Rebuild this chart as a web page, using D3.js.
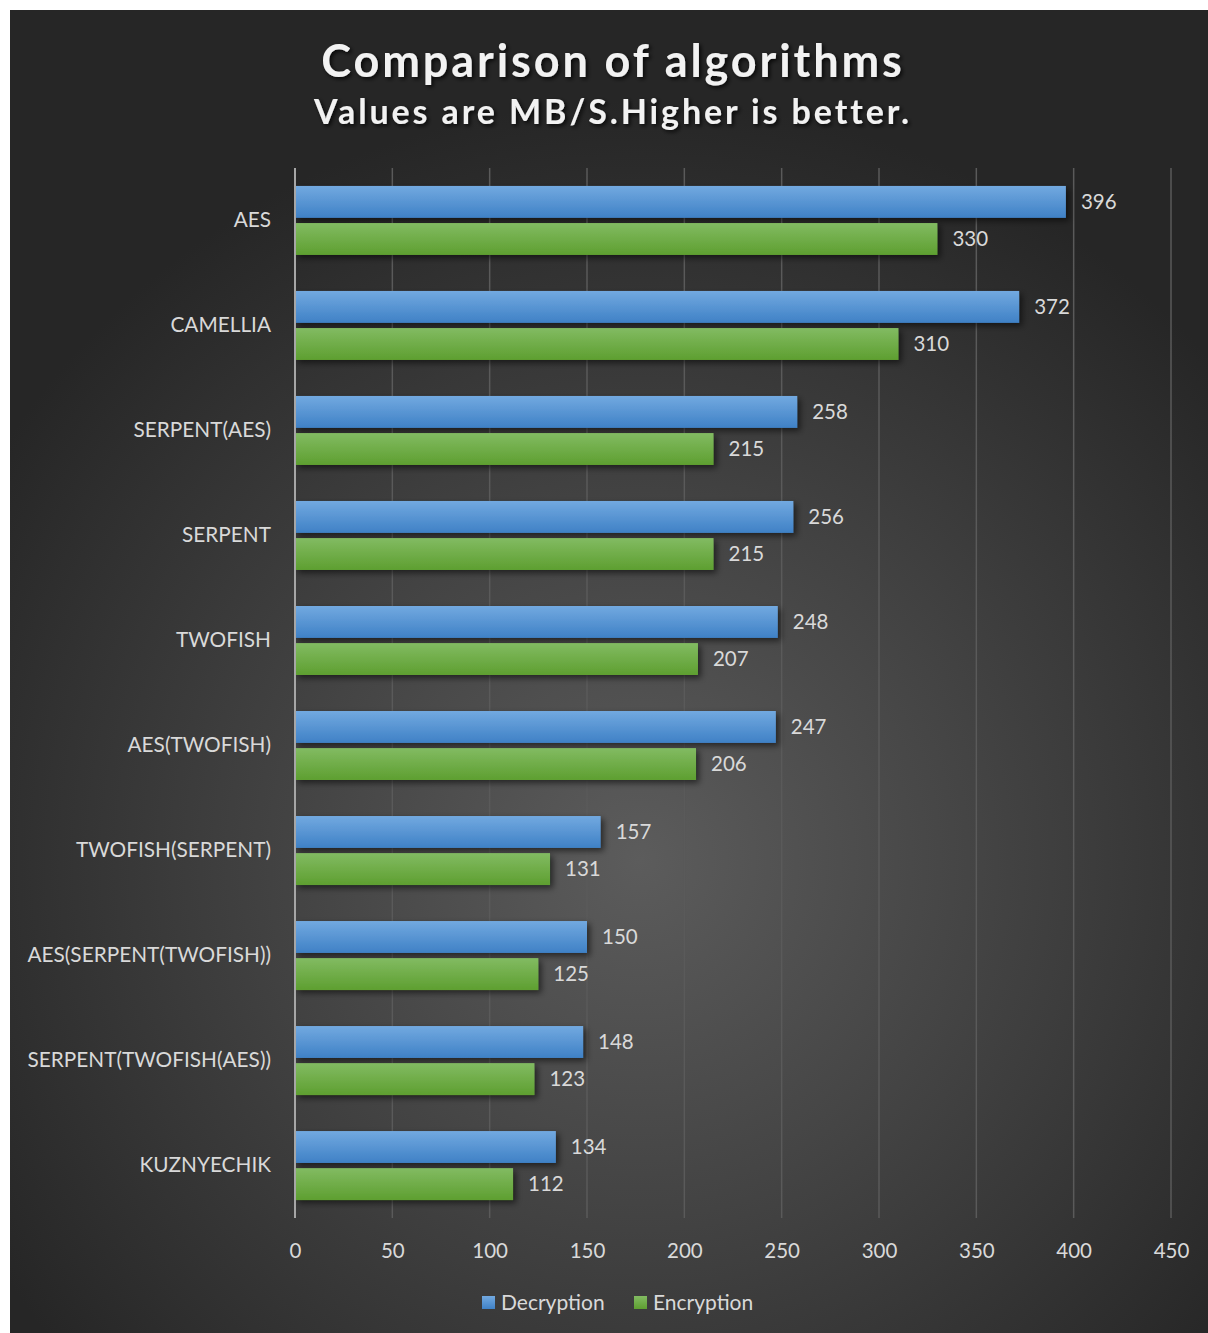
<!DOCTYPE html>
<html>
<head>
<meta charset="utf-8">
<script src="https://cdn.jsdelivr.net/npm/d3@7"></script>
<style>
  html, body { margin: 0; padding: 0; background: #ffffff; }
  svg { display: block; }
</style>
</head>
<body>
<svg id="chart" width="1208" height="1333"></svg>
<script>
// Throughput of each cipher, in MB/s
const algorithms = ["AES", "CAMELLIA", "SERPENT(AES)", "SERPENT", "TWOFISH",
  "AES(TWOFISH)", "TWOFISH(SERPENT)", "AES(SERPENT(TWOFISH))",
  "SERPENT(TWOFISH(AES))", "KUZNYECHIK"];
const decryption = [396, 372, 258, 256, 248, 247, 157, 150, 148, 134];
const encryption = [330, 310, 215, 215, 207, 206, 131, 125, 123, 112];
const seriesNames = ["Decryption", "Encryption"];
const xTicks = [0, 50, 100, 150, 200, 250, 300, 350, 400, 450];

const titleText = "Comparison of algorithms";
const subtitleText = "Values are MB/S.Higher is better.";

const frame = { x: 10, y: 10, w: 1198, h: 1323 };
const plot = { left: 295, right: 1171, top: 168, bottom: 1218 };
const font = "Lato, 'Open Sans', sans-serif";
const textColor = "#d9d9d9";

const svg = d3.select("#chart");
const defs = svg.append("defs");

// Dark backdrop, brighter toward the middle
const bg = defs.append("radialGradient").attr("id", "bg")
  .attr("gradientUnits", "userSpaceOnUse")
  .attr("cx", 640).attr("cy", 860).attr("r", 760);
bg.append("stop").attr("offset", "0").attr("stop-color", "#5c5c5c");
bg.append("stop").attr("offset", "0.45").attr("stop-color", "#444444");
bg.append("stop").attr("offset", "1").attr("stop-color", "#262626");

// Bar fills: lighter at the top edge
const fills = [
  { id: "gBlue", top: "#72a9e0", bottom: "#3f81c6" },
  { id: "gGreen", top: "#82bb62", bottom: "#5e9f30" }
];
fills.forEach(f => {
  const g = defs.append("linearGradient").attr("id", f.id)
    .attr("x1", 0).attr("y1", 0).attr("x2", 0).attr("y2", 1);
  g.append("stop").attr("offset", "0").attr("stop-color", f.top);
  g.append("stop").attr("offset", "1").attr("stop-color", f.bottom);
});

const shadow = defs.append("filter").attr("id", "barShadow")
  .attr("x", "-5%").attr("y", "-30%").attr("width", "115%").attr("height", "180%");
shadow.append("feDropShadow").attr("dx", 3).attr("dy", 3)
  .attr("stdDeviation", 3).attr("flood-color", "#000").attr("flood-opacity", 0.55);

const tshadow = defs.append("filter").attr("id", "textShadow")
  .attr("x", "-5%").attr("y", "-30%").attr("width", "110%").attr("height", "180%");
tshadow.append("feDropShadow").attr("dx", 2).attr("dy", 2)
  .attr("stdDeviation", 2).attr("flood-color", "#000").attr("flood-opacity", 0.8);

svg.append("rect")
  .attr("x", frame.x).attr("y", frame.y)
  .attr("width", frame.w).attr("height", frame.h)
  .attr("fill", "url(#bg)");

// Scales
const x = d3.scaleLinear().domain([0, 450]).range([plot.left, plot.right]);
const y = d3.scaleBand().domain(algorithms).range([plot.top, plot.bottom])
  .paddingInner(0.343).paddingOuter(0.171);
const inner = d3.scaleBand().domain(seriesNames).range([0, y.bandwidth()]).paddingInner(0.14);

// Vertical gridlines
svg.append("g").selectAll("line")
  .data(xTicks.slice(1))
  .join("line")
  .attr("x1", d => x(d)).attr("x2", d => x(d))
  .attr("y1", plot.top).attr("y2", plot.bottom)
  .attr("stroke", "#5a5a5a").attr("stroke-width", 1.5);

// Bars
const rows = algorithms.map((a, i) => ({ name: a, values: [decryption[i], encryption[i]] }));
const groups = svg.append("g").selectAll("g")
  .data(rows).join("g")
  .attr("transform", d => `translate(0,${y(d.name)})`);

groups.selectAll("rect")
  .data(d => d.values.map((v, k) => ({ series: seriesNames[k], value: v, k })))
  .join("rect")
  .attr("x", x(0))
  .attr("y", d => inner(d.series))
  .attr("width", d => x(d.value) - x(0))
  .attr("height", inner.bandwidth())
  .attr("fill", d => `url(#${fills[d.k].id})`)
  .attr("filter", "url(#barShadow)");

groups.selectAll("text")
  .data(d => d.values.map((v, k) => ({ series: seriesNames[k], value: v })))
  .join("text")
  .attr("x", d => x(d.value) + 15)
  .attr("y", d => inner(d.series) + inner.bandwidth() / 2)
  .attr("dy", "0.35em")
  .attr("font-family", font).attr("font-size", 20.5)
  .attr("fill", textColor)
  .text(d => d.value);

// Category axis
const yAxis = svg.append("g")
  .attr("transform", `translate(${plot.left},0)`)
  .call(d3.axisLeft(y).tickSize(0).tickPadding(24));
yAxis.select(".domain").remove();
yAxis.selectAll("text")
  .attr("font-family", font).attr("font-size", 20.8)
  .attr("fill", textColor);

svg.append("line")
  .attr("x1", plot.left).attr("x2", plot.left)
  .attr("y1", plot.top).attr("y2", plot.bottom)
  .attr("stroke", "#a6a6a6").attr("stroke-width", 2);

// Value axis
const xAxis = svg.append("g")
  .attr("transform", `translate(0,${plot.bottom})`)
  .call(d3.axisBottom(x).tickValues(xTicks).tickSize(0).tickPadding(25));
xAxis.select(".domain").remove();
xAxis.selectAll("text")
  .attr("font-family", font).attr("font-size", 20.5)
  .attr("fill", textColor);

// Titles
svg.append("text")
  .attr("x", 613).attr("y", 77)
  .attr("text-anchor", "middle")
  .attr("font-family", font).attr("font-weight", "bold")
  .attr("font-size", 45).attr("letter-spacing", 2.9)
  .attr("fill", "#f2f2f2").attr("filter", "url(#textShadow)")
  .text(titleText);

svg.append("text")
  .attr("x", 613).attr("y", 124)
  .attr("text-anchor", "middle")
  .attr("font-family", font).attr("font-weight", "bold")
  .attr("font-size", 34).attr("letter-spacing", 2.9)
  .attr("fill", "#f2f2f2").attr("filter", "url(#textShadow)")
  .text(subtitleText);

// Legend
const legendX = [482, 634];
const legend = svg.append("g").selectAll("g")
  .data(seriesNames).join("g")
  .attr("transform", (d, i) => `translate(${legendX[i]},1296)`);
legend.append("rect")
  .attr("width", 13).attr("height", 13)
  .attr("fill", (d, i) => `url(#${fills[i].id})`);
legend.append("text")
  .attr("x", 19).attr("y", 7).attr("dy", "0.35em")
  .attr("font-family", font).attr("font-size", 21)
  .attr("fill", textColor)
  .text(d => d);
</script>
</body>
</html>
